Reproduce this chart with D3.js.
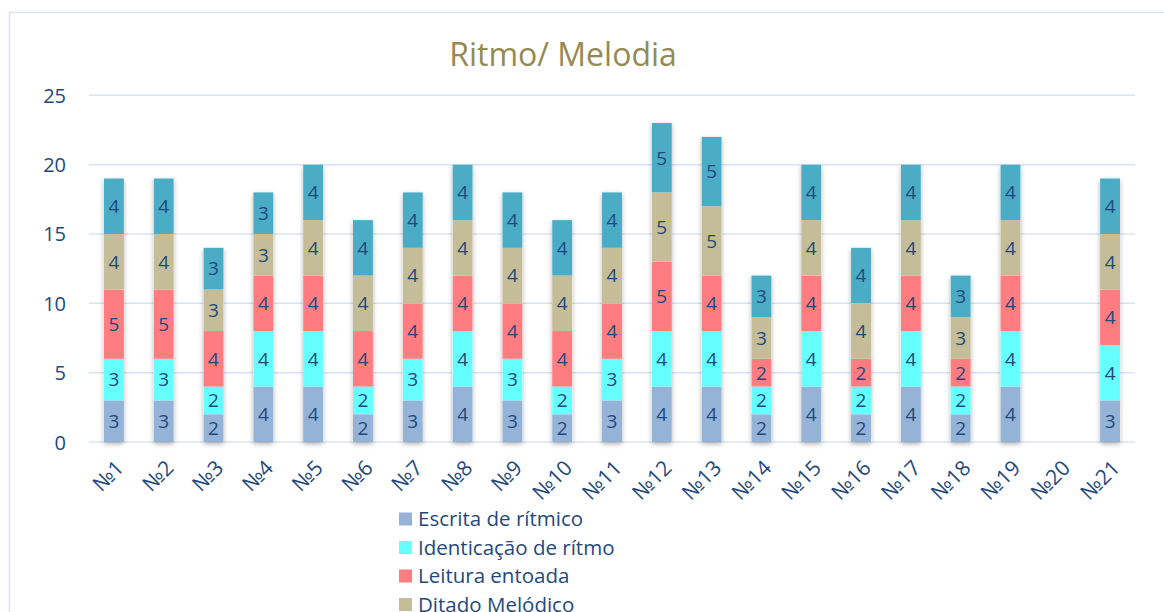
<!DOCTYPE html>
<html>
<head>
<meta charset="utf-8">
<script src="https://cdn.jsdelivr.net/npm/d3@7"></script>
<style>
  html, body { margin: 0; padding: 0; background: #fff; }
  svg { display: block; font-family: "Open Sans", Lato, sans-serif; }
</style>
</head>
<body>
<svg id="chart" width="1164" height="612"></svg>
<script>
const categories = ["№1","№2","№3","№4","№5","№6","№7","№8","№9","№10","№11","№12","№13","№14","№15","№16","№17","№18","№19","№20","№21"];
const seriesNames = ["Escrita de rítmico","Identicação de rítmo","Leitura entoada","Ditado Melódico","Ditado rítmico"];
const escrita      = [3,3,2,4,4,2,3,4,3,2,3,4,4,2,4,2,4,2,4,0,3];
const identicacao  = [3,3,2,4,4,2,3,4,3,2,3,4,4,2,4,2,4,2,4,0,4];
const leitura      = [5,5,4,4,4,4,4,4,4,4,4,5,4,2,4,2,4,2,4,0,4];
const ditadoMel    = [4,4,3,3,4,4,4,4,4,4,4,5,5,3,4,4,4,3,4,0,4];
const ditadoRit    = [4,4,3,3,4,4,4,4,4,4,4,5,5,3,4,4,4,3,4,0,4];
const yTicks = [0,5,10,15,20,25];
const colors = ["#95b3d7","#66ffff","#ff7c80","#c4bd97","#4bacc6"];
const title = "Ritmo/ Melodia";

const seriesValues = [escrita, identicacao, leitura, ditadoMel, ditadoRit];
const table = categories.map((c, i) => {
  const row = { cat: c };
  seriesNames.forEach((s, k) => row[s] = seriesValues[k][i]);
  return row;
});

const svg = d3.select("#chart");
const textColor = "#1f497d";
const font = "'Open Sans', Lato, sans-serif";

const defs = svg.append("defs");
const f = defs.append("filter").attr("id", "shadow").attr("x", "-50%").attr("y", "-10%").attr("width", "200%").attr("height", "130%");
f.append("feDropShadow").attr("dx", 0).attr("dy", 2).attr("stdDeviation", 2.5).attr("flood-color", "#000").attr("flood-opacity", 0.3);

svg.append("rect").attr("x", 9.5).attr("y", 12.5).attr("width", 1170).attr("height", 620)
  .attr("fill", "none").attr("stroke", "#d6e3f5").attr("stroke-width", 1.5);

const x = d3.scaleBand().domain(categories).range([89, 1135]).paddingInner(0.6).paddingOuter(0.3);
const y = d3.scaleLinear().domain([0, 25]).range([442, 95.3]);

svg.append("g").selectAll("line").data(yTicks).join("line")
  .attr("x1", 89).attr("x2", 1135)
  .attr("y1", d => y(d)).attr("y2", d => y(d))
  .attr("stroke", "#d9e4f3").attr("stroke-width", 1.5);

const yAxis = d3.axisLeft(y).tickValues(yTicks).tickSize(0).tickPadding(0);
const yg = svg.append("g").attr("transform", "translate(66,0)").call(yAxis);
yg.select(".domain").remove();
yg.selectAll("text").attr("fill", textColor).attr("font-size", 20).attr("font-family", font).attr("dy", "0.35em");

svg.append("text").attr("x", 563).attr("y", 66).attr("text-anchor", "middle")
  .attr("fill", "#948a54").attr("font-size", 32).text(title);

const stack = d3.stack().keys(seriesNames);
const stacked = stack(table);

const barsG = svg.append("g");
categories.forEach((c, i) => {
  const total = seriesNames.reduce((a, s) => a + table[i][s], 0);
  if (total > 0) {
    barsG.append("rect").attr("x", x(c)).attr("width", x.bandwidth())
      .attr("y", y(total)).attr("height", y(0) - y(total))
      .attr("fill", "#fff").attr("filter", "url(#shadow)");
  }
});

stacked.forEach((layer, k) => {
  const g = svg.append("g");
  g.selectAll("rect").data(layer).join("rect")
    .attr("x", d => x(d.data.cat))
    .attr("width", x.bandwidth())
    .attr("y", d => y(d[1]))
    .attr("height", d => y(d[0]) - y(d[1]))
    .attr("fill", colors[k]);
  g.selectAll("text").data(layer.filter(d => d[1] - d[0] > 0)).join("text")
    .attr("x", d => x(d.data.cat) + x.bandwidth() / 2)
    .attr("y", d => (y(d[0]) + y(d[1])) / 2)
    .attr("dy", "0.36em")
    .attr("text-anchor", "middle")
    .attr("fill", textColor).attr("font-size", 19)
    .text(d => d[1] - d[0]);
});

const xg = svg.append("g");
xg.selectAll("text").data(categories).join("text")
  .attr("transform", d => `translate(${x(d) + x.bandwidth() / 2 + 6},${464}) rotate(-45)`)
  .attr("text-anchor", "end")
  .attr("dy", "0.35em")
  .attr("fill", textColor).attr("font-size", 21)
  .text(d => d);

const lg = svg.append("g");
seriesNames.forEach((s, k) => {
  const cy = 519 + k * 28.5;
  lg.append("rect").attr("x", 399).attr("y", cy - 6.5).attr("width", 13).attr("height", 13).attr("fill", colors[k]);
  lg.append("text").attr("x", 418).attr("y", cy).attr("dy", "0.36em")
    .attr("fill", textColor).attr("font-size", 20.5).text(s);
});
</script>
</body>
</html>
